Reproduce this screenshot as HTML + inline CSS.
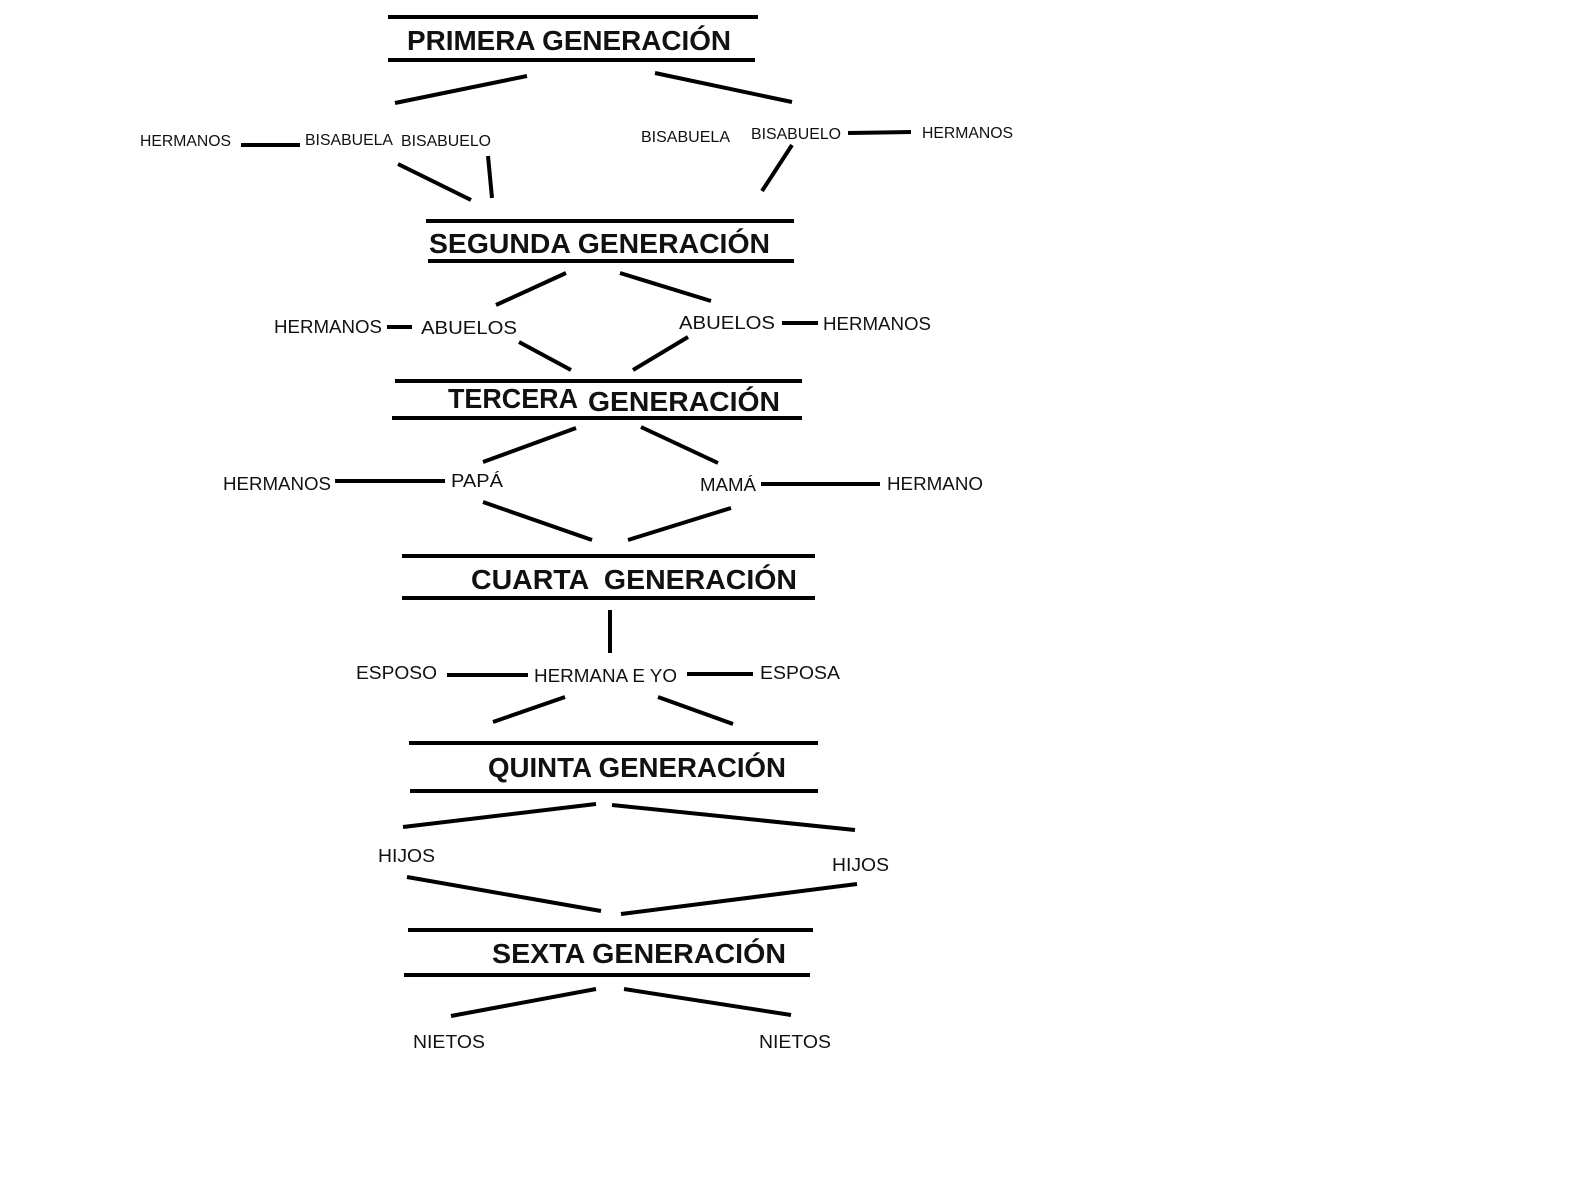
<!DOCTYPE html>
<html><head><meta charset="utf-8"><style>
html,body{margin:0;padding:0;background:#fff;}
svg{display:block}
text{font-family:"Liberation Sans",sans-serif;fill:#111}
.h{font-weight:bold;font-size:28px}
.l{font-size:18px}
.s{font-size:16px}
line{stroke:#000;stroke-width:4;stroke-linecap:butt}
</style></head><body>
<svg width="1574" height="1182" viewBox="0 0 1574 1182" xmlns="http://www.w3.org/2000/svg">
<rect width="1574" height="1182" fill="#fff"/>
<!-- Gen 1 -->
<line x1="388" y1="17" x2="758" y2="17"/><line x1="388" y1="60" x2="755" y2="60"/>
<text class="h" x="407" y="50" textLength="324" lengthAdjust="spacingAndGlyphs">PRIMERA GENERACIÓN</text>
<line x1="395" y1="103" x2="527" y2="76"/><line x1="655" y1="73" x2="792" y2="102"/>
<text class="s" x="140" y="146" textLength="91" lengthAdjust="spacingAndGlyphs">HERMANOS</text>
<line x1="241" y1="145" x2="300" y2="145"/>
<text class="s" x="305" y="145" textLength="88" lengthAdjust="spacingAndGlyphs">BISABUELA</text>
<text class="s" x="401" y="146" textLength="90" lengthAdjust="spacingAndGlyphs">BISABUELO</text>
<text class="s" x="641" y="142" textLength="89" lengthAdjust="spacingAndGlyphs">BISABUELA</text>
<text class="s" x="751" y="139" textLength="90" lengthAdjust="spacingAndGlyphs">BISABUELO</text>
<line x1="848" y1="133" x2="911" y2="132"/>
<text class="s" x="922" y="138" textLength="91" lengthAdjust="spacingAndGlyphs">HERMANOS</text>
<line x1="398" y1="164" x2="471" y2="200"/><line x1="488" y1="156" x2="492" y2="198"/><line x1="792" y1="145" x2="762" y2="191"/>
<!-- Gen 2 -->
<line x1="426" y1="221" x2="794" y2="221"/><line x1="428" y1="261" x2="794" y2="261"/>
<text class="h" x="429" y="253" textLength="341" lengthAdjust="spacingAndGlyphs">SEGUNDA GENERACIÓN</text>
<line x1="496" y1="305" x2="566" y2="273"/><line x1="620" y1="273" x2="711" y2="301"/>
<text class="l" x="274" y="333" textLength="108" lengthAdjust="spacingAndGlyphs">HERMANOS</text>
<line x1="387" y1="327" x2="412" y2="327"/>
<text class="l" x="421" y="334" textLength="96" lengthAdjust="spacingAndGlyphs">ABUELOS</text>
<text class="l" x="679" y="329" textLength="96" lengthAdjust="spacingAndGlyphs">ABUELOS</text>
<line x1="782" y1="323" x2="818" y2="323"/>
<text class="l" x="823" y="330" textLength="108" lengthAdjust="spacingAndGlyphs">HERMANOS</text>
<line x1="519" y1="342" x2="571" y2="370"/><line x1="633" y1="370" x2="688" y2="337"/>
<!-- Gen 3 -->
<line x1="395" y1="381" x2="802" y2="381"/><line x1="392" y1="418" x2="802" y2="418"/>
<text class="h" x="448" y="408" textLength="130" lengthAdjust="spacingAndGlyphs">TERCERA</text>
<text class="h" x="588" y="411" textLength="192" lengthAdjust="spacingAndGlyphs">GENERACIÓN</text>
<line x1="483" y1="462" x2="576" y2="428"/><line x1="641" y1="427" x2="718" y2="463"/>
<text class="l" x="223" y="490" textLength="108" lengthAdjust="spacingAndGlyphs">HERMANOS</text>
<line x1="335" y1="481" x2="445" y2="481"/>
<text class="l" x="451" y="487" textLength="52" lengthAdjust="spacingAndGlyphs">PAPÁ</text>
<text class="l" x="700" y="491" textLength="56" lengthAdjust="spacingAndGlyphs">MAMÁ</text>
<line x1="761" y1="484" x2="880" y2="484"/>
<text class="l" x="887" y="490" textLength="96" lengthAdjust="spacingAndGlyphs">HERMANO</text>
<line x1="483" y1="502" x2="592" y2="540"/><line x1="628" y1="540" x2="731" y2="508"/>
<!-- Gen 4 -->
<line x1="402" y1="556" x2="815" y2="556"/><line x1="402" y1="598" x2="815" y2="598"/>
<text class="h" x="471" y="589" textLength="326" lengthAdjust="spacingAndGlyphs" xml:space="preserve">CUARTA  GENERACIÓN</text>
<line x1="610" y1="610" x2="610" y2="653"/>
<text class="l" x="356" y="679" textLength="81" lengthAdjust="spacingAndGlyphs">ESPOSO</text>
<line x1="447" y1="675" x2="528" y2="675"/>
<text class="l" x="534" y="682" textLength="143" lengthAdjust="spacingAndGlyphs">HERMANA E YO</text>
<line x1="687" y1="674" x2="753" y2="674"/>
<text class="l" x="760" y="679" textLength="80" lengthAdjust="spacingAndGlyphs">ESPOSA</text>
<line x1="493" y1="722" x2="565" y2="697"/><line x1="658" y1="697" x2="733" y2="724"/>
<!-- Gen 5 -->
<line x1="409" y1="743" x2="818" y2="743"/><line x1="410" y1="791" x2="818" y2="791"/>
<text class="h" x="488" y="777" textLength="298" lengthAdjust="spacingAndGlyphs">QUINTA GENERACIÓN</text>
<line x1="403" y1="827" x2="596" y2="804"/><line x1="612" y1="805" x2="855" y2="830"/>
<text class="l" x="378" y="862" textLength="57" lengthAdjust="spacingAndGlyphs">HIJOS</text>
<text class="l" x="832" y="871" textLength="57" lengthAdjust="spacingAndGlyphs">HIJOS</text>
<line x1="407" y1="877" x2="601" y2="911"/><line x1="621" y1="914" x2="857" y2="884"/>
<!-- Gen 6 -->
<line x1="408" y1="930" x2="813" y2="930"/><line x1="404" y1="975" x2="810" y2="975"/>
<text class="h" x="492" y="963" textLength="294" lengthAdjust="spacingAndGlyphs">SEXTA GENERACIÓN</text>
<line x1="451" y1="1016" x2="596" y2="989"/><line x1="624" y1="989" x2="791" y2="1015"/>
<text class="l" x="413" y="1048" textLength="72" lengthAdjust="spacingAndGlyphs">NIETOS</text>
<text class="l" x="759" y="1048" textLength="72" lengthAdjust="spacingAndGlyphs">NIETOS</text>
</svg>
</body></html>
